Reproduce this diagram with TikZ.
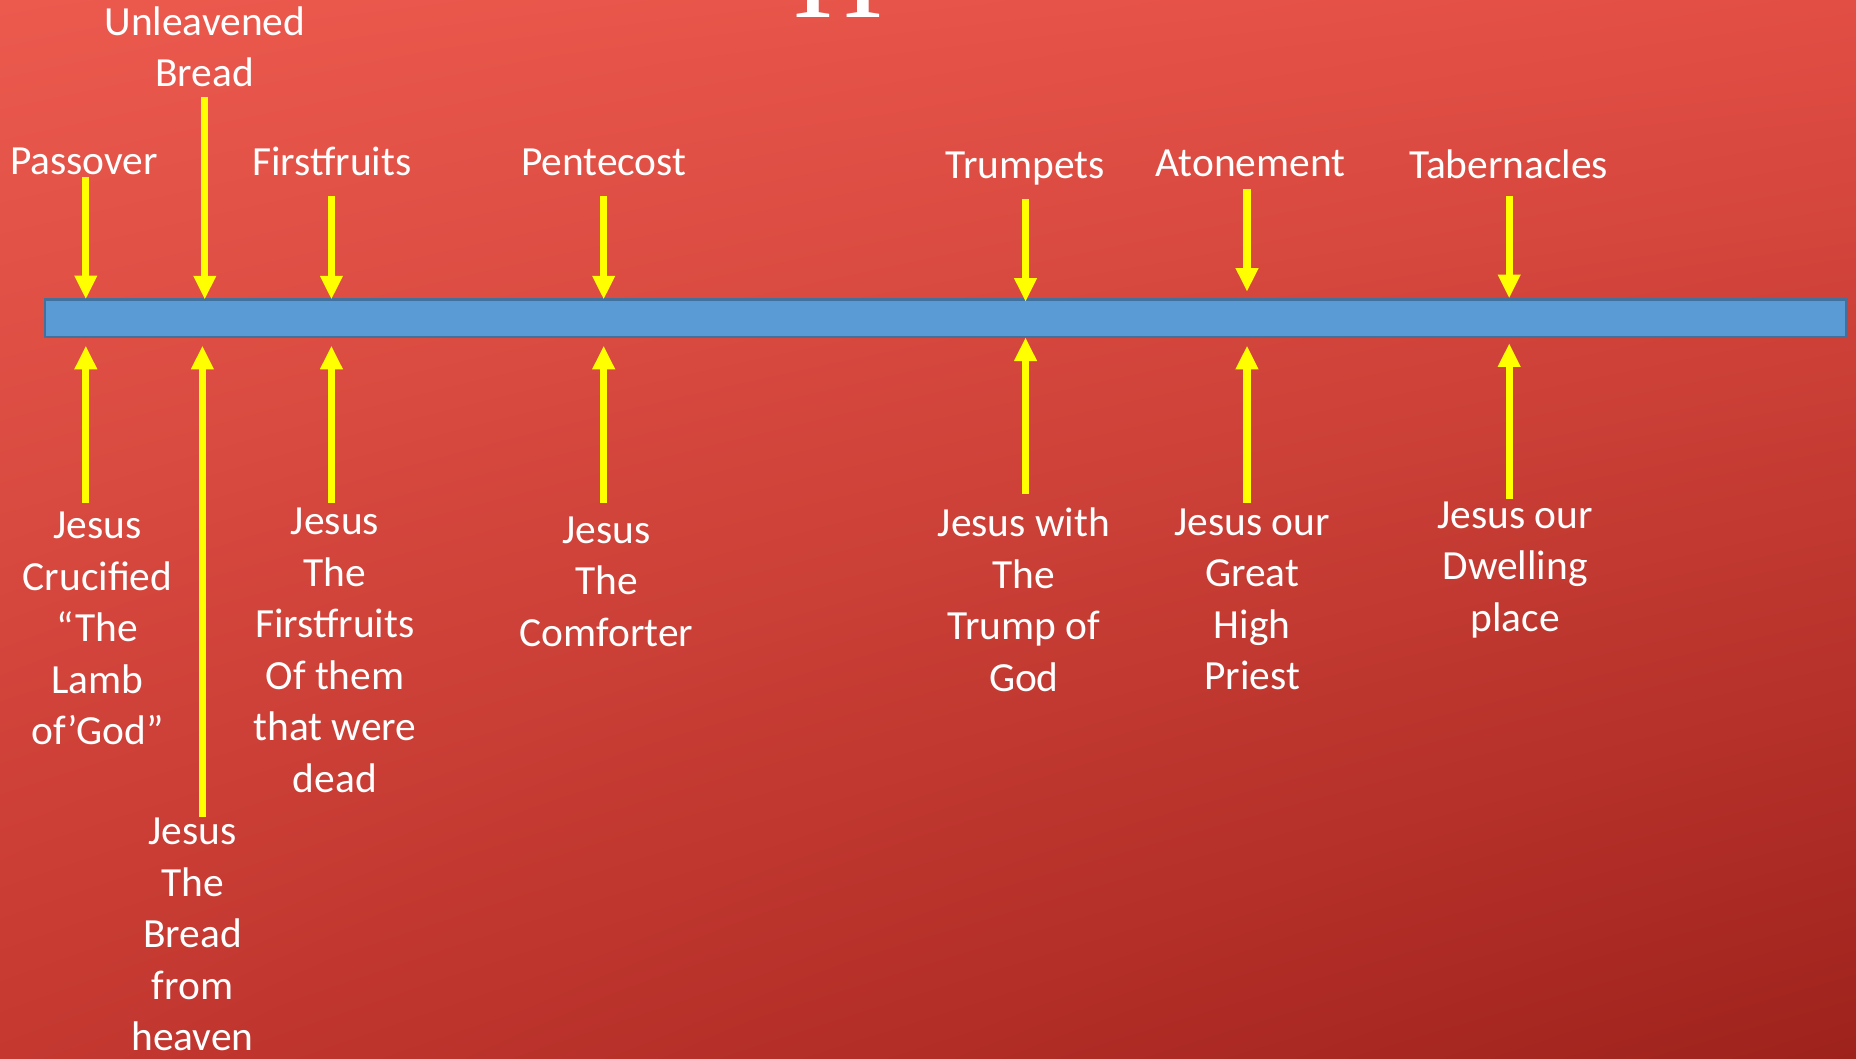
\documentclass[tikz,border=0pt]{standalone}
\usepackage{fontspec}
\setmainfont{Carlito}
\newfontfamily\titlefont{Liberation Serif}
\usetikzlibrary{arrows.meta,shadings}
\definecolor{bgTL}{RGB}{236,90,78}
\definecolor{bgTR}{RGB}{226,78,68}
\definecolor{bgBL}{RGB}{196,56,48}
\definecolor{bgBR}{RGB}{158,34,28}
\definecolor{barFill}{RGB}{91,155,213}
\definecolor{barLine}{RGB}{65,113,156}
\definecolor{arrYellow}{RGB}{255,255,0}
\begin{document}
\begin{tikzpicture}[x=1pt,y=-1pt,
  arr/.style={draw=arrYellow, line width=6pt, -{Triangle[width=18pt,length=20pt]}},
  lbl/.style={text=white, align=center, inner sep=0pt, anchor=base,
    font=\fontsize{35}{43.5}\selectfont},
  timebar/.style={draw=barLine, fill=barFill, line width=2pt, inner sep=0pt,
    minimum width=1522pt, minimum height=31.5pt}]
\clip (0,0) rectangle (1568,894);
\shade[upper left=bgTL, upper right=bgTR, lower left=bgBL, lower right=bgBR]
  (0,0) rectangle (1568,894);

% partially visible title glyph
\node[text=white, inner sep=0pt, anchor=base,
  font=\titlefont\fontsize{105}{105}\selectfont] (title) at (708,15) {H};

% timeline bar
\node[timebar] (bar) at (799,268.7) {};

% feast labels (top); anchor base = baseline of the last line
\node[lbl] (passover) at (71,147) {Passover};
\node[lbl] (unleavened) at (173,73.1) {Unleavened\\Bread};
\node[lbl] (firstfruits) at (280.5,148) {Firstfruits};
\node[lbl] (pentecost) at (510,148) {Pentecost};
\node[lbl] (trumpets) at (866,150.6) {Trumpets};
\node[lbl] (atonement) at (1056.5,149.3) {Atonement};
\node[lbl] (tabernacles) at (1274.5,150.6) {Tabernacles};

% fulfilment labels (bottom)
\node[lbl] (crucified) at (82.4,629.3) {Jesus\\Crucified\\“The\\Lamb\\of’God”};
\node[lbl] (breadheaven) at (162.6,887.5) {Jesus\\The\\Bread\\from\\heaven};
\node[lbl] (ffdead) at (283,669.1) {Jesus\\The\\Firstfruits\\Of them\\that were\\dead};
\node[lbl] (comforter) at (512.4,546) {Jesus\\The\\Comforter};
\node[lbl] (trump) at (865,583.9) {Jesus with\\The\\Trump of\\God};
\node[lbl] (priest) at (1057.8,582.5) {Jesus our\\Great\\High\\Priest};
\node[lbl] (dwelling) at (1280,533.3) {Jesus our\\Dwelling\\place};

% arrow end points
\coordinate (pT) at (72.5,149.5);   \coordinate (pH) at (72.5,252.8);
\coordinate (uT) at (173,82);       \coordinate (uH) at (173,253);
\coordinate (fT) at (280,166);      \coordinate (fH) at (280,253);
\coordinate (nT) at (510,166);      \coordinate (nH) at (510,253);
\coordinate (tT) at (866.4,168);    \coordinate (tH) at (866.4,255);
\coordinate (aT) at (1053.5,159.7); \coordinate (aH) at (1053.5,246.5);
\coordinate (bT) at (1275,165.6);   \coordinate (bH) at (1275,252);

\coordinate (pT2) at (72.5,424.7);   \coordinate (pH2) at (72.5,292);
\coordinate (uT2) at (171,690);      \coordinate (uH2) at (171,292);
\coordinate (fT2) at (280,424.7);    \coordinate (fH2) at (280,292);
\coordinate (nT2) at (510,424.7);    \coordinate (nH2) at (510,292);
\coordinate (tT2) at (866.4,417.3);  \coordinate (tH2) at (866.4,285);
\coordinate (aT2) at (1053.5,424.7); \coordinate (aH2) at (1053.5,292);
\coordinate (bT2) at (1275,421.8);   \coordinate (bH2) at (1275,290);

% down arrows
\draw[arr] (pT) -- (pH);
\draw[arr] (uT) -- (uH);
\draw[arr] (fT) -- (fH);
\draw[arr] (nT) -- (nH);
\draw[arr] (tT) -- (tH);
\draw[arr] (aT) -- (aH);
\draw[arr] (bT) -- (bH);

% up arrows
\draw[arr] (pT2) -- (pH2);
\draw[arr] (uT2) -- (uH2);
\draw[arr] (fT2) -- (fH2);
\draw[arr] (nT2) -- (nH2);
\draw[arr] (tT2) -- (tH2);
\draw[arr] (aT2) -- (aH2);
\draw[arr] (bT2) -- (bH2);
\end{tikzpicture}
\end{document}
